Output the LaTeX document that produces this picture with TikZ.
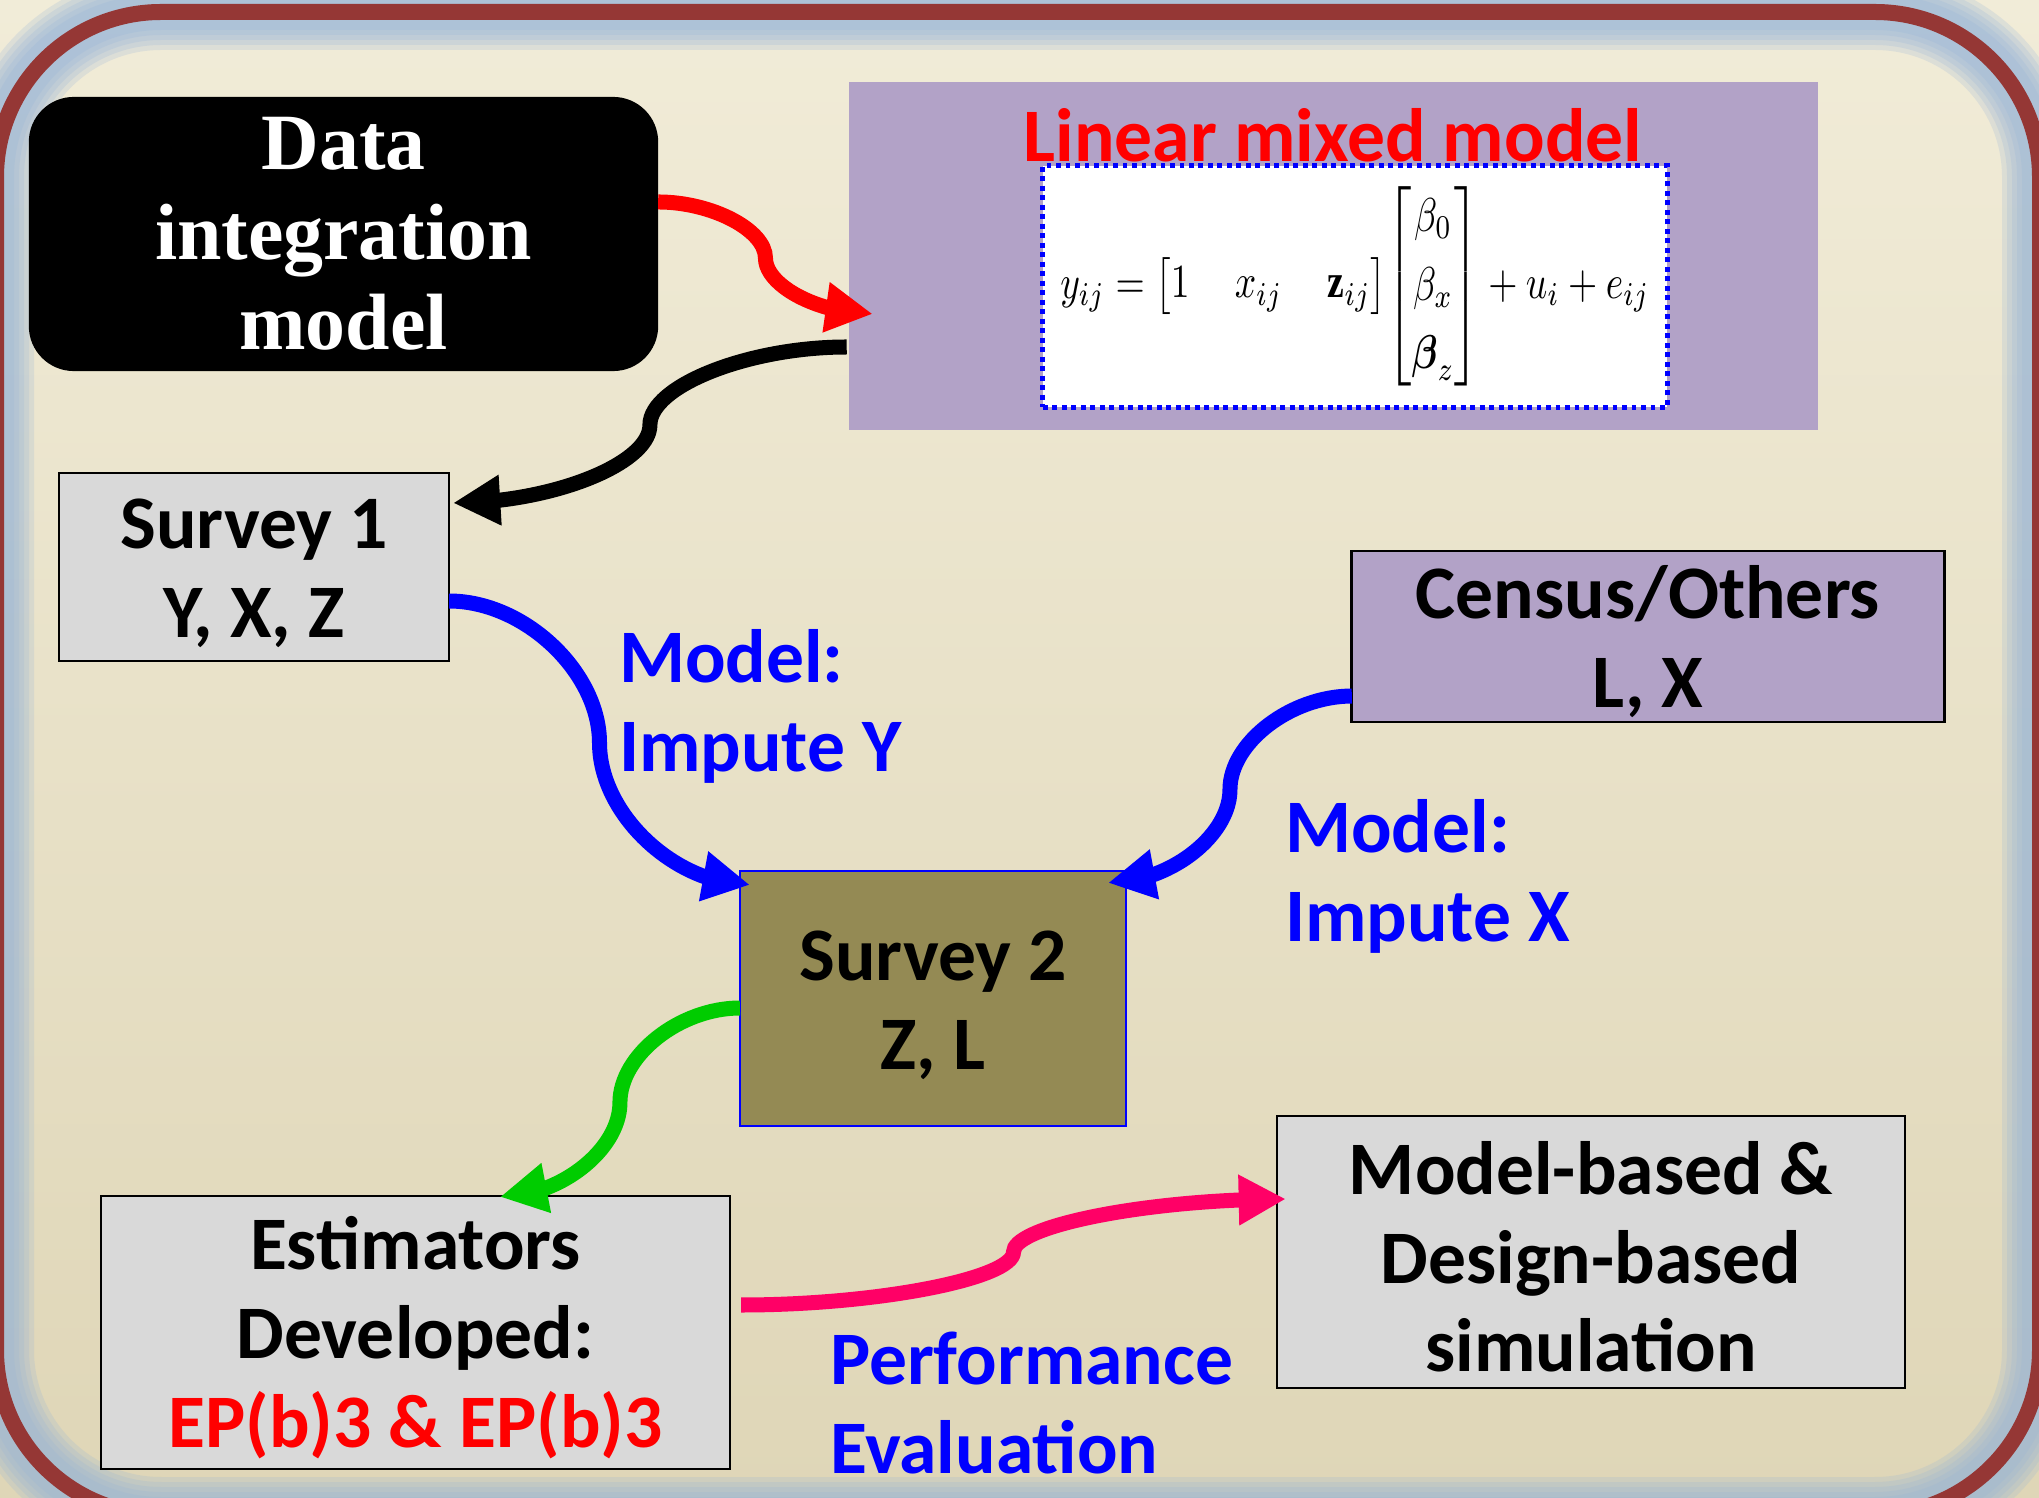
\documentclass[tikz,border=0pt]{standalone}
\usepackage{fontspec}
\usepackage{amsmath}
\usepackage{graphicx}
\setmainfont{Liberation Serif}
\setsansfont{Carlito}
\usetikzlibrary{arrows.meta,bending,calc}

\definecolor{framered}{RGB}{149,55,53}
\definecolor{glowblue}{RGB}{149,179,215}
\definecolor{creamtop}{RGB}{241,236,216}
\definecolor{creambot}{RGB}{223,214,183}
\definecolor{lilac}{RGB}{178,162,199}
\definecolor{boxgray}{RGB}{217,217,217}
\definecolor{olive}{RGB}{148,138,84}
\definecolor{hotpink}{RGB}{255,0,102}
\definecolor{leafgreen}{RGB}{0,204,0}

\newcommand\boxfont{\sffamily\bfseries\fontsize{21.5}{25.3}\selectfont}
\newcommand\dimfont{\rmfamily\bfseries\fontsize{22.7}{25.6}\selectfont}
\newcommand\topstrut{\rule{0pt}{17.8pt}}

\begin{document}
\begin{tikzpicture}[
			x = 0.01cm, y = 0.01cm,
			every node/.style = {inner sep=0pt, outer sep=0pt},
			greybox/.style = {draw=black, line width=0.6pt, fill=boxgray, align=center, font=\boxfont},
			lbl/.style = {anchor=west, align=left, font=\boxfont, text=blue},
			conn/.style = {line width=0.15cm, -{Triangle[length=13.4pt,width=13.5pt]},
				to path={let \p1=(\tikztostart), \p2=(\tikztotarget) in
				.. controls ({0.75*\x1+0.25*\x2},\y1) and ({0.5*\x1+0.5*\x2},{0.75*\y1+0.25*\y2}) .. ({0.5*\x1+0.5*\x2},{0.5*\y1+0.5*\y2})
				.. controls ({0.5*\x1+0.5*\x2},{0.25*\y1+0.75*\y2}) and ({0.25*\x1+0.75*\x2},\y2) .. (\tikztotarget)}}
			]

			\fill[top color=creamtop, bottom color=creambot] (0,0) rectangle (2039,-1498);
			\useasboundingbox (0,0) rectangle (2039,-1498);
			\foreach \w in {76,66,56,46,36}
				\draw[glowblue, opacity=0.22, line width=\w*0.01cm, rounded corners=1.65cm] (-4,-12) rectangle (2040,-1515);
			\draw[framered, line width=0.16cm, rounded corners=1.65cm] (-4,-12) rectangle (2040,-1515);

			\node[fill=black, rounded corners=0.45cm, minimum width=6.29cm, minimum height=2.74cm, align=center, text=white, font=\dimfont] (dim) at (343.5,-234) {Data\\integration\\model};

			\node[fill=lilac, minimum width=9.69cm, minimum height=3.48cm] (lmm) at (1333.5,-256) {};
			\node[anchor=base, font=\boxfont, text=red] (lmmtitle) at (1333,-162) {Linear mixed model};
			\node[fill=white, draw=blue, line width=1.4pt, dash pattern=on 1.4pt off 1.3pt, minimum width=6.24cm, minimum height=2.41cm] (eqbox) at (1355,-286.5)
				{\resizebox*{5.89cm}{2.05cm}{$y_{ij}={\arraycolsep=6pt\begin{bmatrix}1 & x_{ij} & \mathbf{z}_{ij}\end{bmatrix}}{\renewcommand\arraystretch{1.2}\begin{bmatrix}\beta_0\\ \beta_x\\ \boldsymbol{\beta}_z\end{bmatrix}}+u_i+e_{ij}$}};

			\node[greybox, minimum width=3.9cm, minimum height=1.88cm] (s1) at (254,-567) {\topstrut Survey 1\\Y, X, Z};
			\node[greybox, fill=lilac, line width=0.8pt, minimum width=5.92cm, minimum height=1.71cm] (census) at (1648,-636.5) {\topstrut Census/Others\\L, X};
			\node[greybox, fill=olive, draw=blue, minimum width=3.86cm, minimum height=2.55cm] (s2) at (933,-998.5) {\topstrut Survey 2\\Z, L};
			\node[greybox, minimum width=6.29cm, minimum height=2.73cm] (est) at (415.5,-1332.5) {\topstrut Estimators\\Developed:\\\textcolor{red}{EP(b)3 \& EP(b)3}};
			\node[greybox, minimum width=6.28cm, minimum height=2.72cm] (sim) at (1591,-1252) {\topstrut Model-based \&\\Design-based\\simulation};

			\node[lbl] (impy) at (619,-706) {Model:\\Impute Y};
			\node[lbl] (impx) at (1285,-876) {Model:\\Impute X};
			\node[lbl] (perf) at (830,-1403) {Performance\\Evaluation};

			\draw[conn, red] ([yshift=0.32cm]dim.east) to ([shift={(24,-58)}]lmm.west);
			\draw[conn, black] ([shift={(-2,-91)}]lmm.west) to ([shift={(4,64)}]s1.east);
			\draw[conn, blue] ([yshift=-0.34cm]s1.east) to ([shift={(10,-14)}]s2.north west);
			\draw[conn, blue] ([yshift=-0.595cm]census.west) to ([shift={(-18,-12)}]s2.north east);
			\draw[conn, leafgreen] ([yshift=-0.095cm]s2.west) to ([shift={(84.5,-1)}]est.north);
			\draw[conn, hotpink] ([shift={(11,27.5)}]est.east) to ([shift={(9,53)}]sim.west);

		\end{tikzpicture}
\end{document}
